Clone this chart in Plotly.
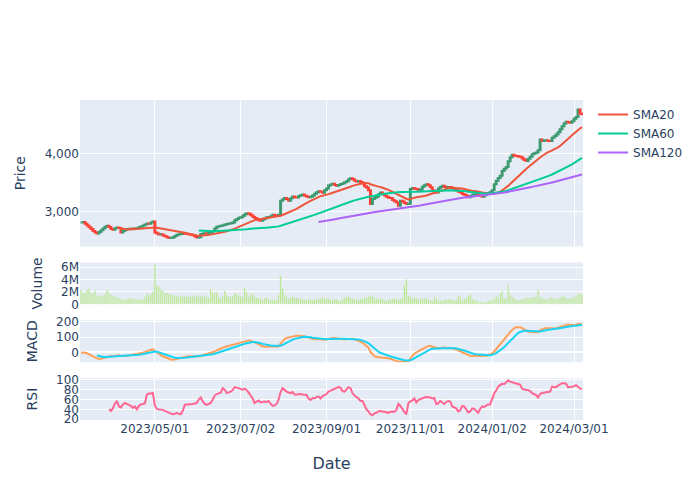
import numpy as np
import pandas as pd
import plotly.graph_objects as go
from plotly.subplots import make_subplots

start_date = "2023-03-08"
end_date = "2024-03-07"
market_holidays = ["2023-04-07", "2023-05-29", "2023-06-19", "2023-07-04", "2023-09-04",
                   "2023-11-23", "2023-12-25", "2024-01-01", "2024-01-15", "2024-02-19"]

close = [
    2815, 2820, 2790, 2760, 2730, 2700, 2665, 2640, 2625, 2650,
    2680, 2710, 2740, 2757, 2735, 2700, 2690, 2715, 2725, 2720,
    2640, 2665, 2690, 2700, 2705, 2700, 2710, 2705, 2715, 2730,
    2745, 2760, 2780, 2795, 2790, 2815, 2832, 2640, 2625, 2605,
    2610, 2590, 2575, 2560, 2545, 2548, 2560, 2580, 2600, 2610,
    2615, 2624, 2618, 2613, 2605, 2600, 2595, 2570, 2555, 2560,
    2615, 2624, 2628, 2625, 2638, 2645, 2665, 2710, 2740, 2750,
    2757, 2765, 2778, 2786, 2795, 2800, 2815, 2850, 2873, 2895,
    2905, 2931, 2955, 2971, 2965, 2940, 2913, 2890, 2873, 2850,
    2844, 2865, 2880, 2902, 2910, 2920, 2948, 2940, 2935, 2948,
    3190, 3215, 3237, 3220, 3190, 3230, 3260, 3250, 3245, 3270,
    3285, 3295, 3275, 3260, 3250, 3255, 3277, 3310, 3335, 3350,
    3345, 3325, 3370, 3400, 3450, 3470, 3480, 3460, 3445, 3460,
    3475, 3486, 3505, 3525, 3560, 3577, 3560, 3535, 3520, 3528,
    3510, 3486, 3440, 3415, 3370, 3131, 3217, 3240, 3257, 3300,
    3331, 3303, 3280, 3257, 3240, 3234, 3200, 3180, 3160, 3103,
    3189, 3177, 3150, 3131, 3135, 3389, 3406, 3395, 3389, 3370,
    3380, 3428, 3455, 3474, 3455, 3420, 3371, 3345, 3331, 3400,
    3425, 3446, 3430, 3417, 3425, 3420, 3406, 3390, 3371, 3345,
    3331, 3303, 3290, 3274, 3250, 3265, 3291, 3300, 3303, 3285,
    3274, 3257, 3285, 3303, 3320, 3340, 3371, 3474, 3531, 3580,
    3620, 3703, 3740, 3772, 3870, 3940, 3980, 3965, 3960, 3950,
    3945, 3915, 3890, 3874, 3910, 3945, 3990, 4005, 4020, 4060,
    4246, 4217, 4225, 4230, 4220, 4217, 4275, 4300, 4332, 4370,
    4420, 4474, 4520, 4550, 4540, 4531, 4560, 4600, 4630, 4760,
    4690, 4680,
]

volume_millions = [
    2.4, 1.8, 1.9, 2.3, 2.6, 1.9, 1.8, 2.2, 1.4, 1.4,
    1.4, 1.35, 1.6, 2.4, 2.0, 1.6, 1.35, 1.25, 1.15, 1.0,
    0.85, 0.7, 0.8, 0.95, 0.95, 0.95, 0.95, 0.9, 0.85, 0.75,
    0.75, 0.85, 1.2, 1.8, 1.5, 1.7, 2.0, 6.4, 3.1, 2.9,
    2.4, 2.2, 1.8, 1.9, 1.65, 1.6, 1.4, 1.5, 1.45, 1.25,
    1.3, 1.35, 1.3, 1.3, 1.2, 1.3, 1.5, 1.2, 1.4, 1.2,
    1.25, 1.5, 1.3, 1.2, 1.1, 2.4, 1.9, 1.9, 2.0, 1.2,
    0.95, 1.3, 2.2, 1.5, 1.25, 1.2, 1.3, 1.85, 1.65, 1.4,
    1.3, 1.2, 2.7, 2.0, 1.25, 1.5, 1.75, 1.2, 1.1, 1.0,
    0.95, 0.7, 1.0, 1.1, 0.8, 0.7, 0.8, 0.75, 0.7, 1.6,
    4.6, 2.6, 1.5, 1.2, 0.95, 1.1, 1.2, 1.1, 1.05, 0.95,
    0.8, 0.85, 0.75, 0.7, 0.8, 0.75, 0.7, 0.8, 0.75, 0.9,
    1.0, 1.1, 0.8, 0.9, 0.95, 0.75, 0.7, 0.8, 0.85, 0.6,
    0.55, 0.85, 1.1, 1.15, 1.3, 1.0, 0.95, 0.85, 0.7, 0.75,
    0.8, 0.9, 1.0, 1.1, 1.2, 1.4, 1.25, 1.1, 0.95, 0.9,
    0.9, 0.85, 0.6, 0.55, 0.7, 0.8, 0.9, 0.95, 0.85, 0.7,
    0.9, 1.0, 3.1, 4.0, 1.4, 1.2, 0.95, 1.1, 1.0, 0.75,
    0.85, 0.95, 1.0, 0.95, 0.75, 0.6, 0.55, 1.2, 0.9, 0.65,
    0.6, 0.6, 0.75, 0.8, 0.85, 0.8, 0.75, 0.7, 0.65, 1.35,
    1.2, 0.65, 0.85, 0.95, 1.35, 1.6, 0.9, 0.7, 0.6, 0.5,
    0.4, 0.35, 0.35, 0.4, 0.55, 0.65, 0.7, 0.9, 1.3, 1.1,
    1.8, 2.1, 1.0, 0.8, 3.1, 1.6, 1.2, 0.95, 0.8, 0.7,
    0.75, 0.85, 0.9, 1.0, 1.0, 1.1, 1.15, 1.2, 1.2, 2.3,
    1.2, 1.0, 0.9, 0.85, 0.75, 1.15, 1.1, 1.0, 0.9, 0.9,
    1.1, 1.3, 1.25, 1.1, 0.9, 1.0, 1.0, 1.2, 1.4, 1.75,
    1.7, 1.6,
]

# RSI(14); first 14 sessions have no value
rsi_values = [None] * 14 + [
    40, 37, 42, 52, 57, 46,
    44, 50, 53, 51, 49, 47, 43, 46, 40, 47,
    50, 51, 52, 70, 72, 72, 73, 48, 41, 40,
    40, 39, 37, 35, 33, 31, 30, 31, 33, 31,
    30, 37, 49, 50, 50, 50, 51, 52, 53, 60,
    64, 56, 51, 49, 51, 53, 60, 68, 71, 73,
    74, 83, 80, 73, 74, 76, 79, 85, 84, 83,
    82, 80, 82, 79, 74, 68, 62, 53, 55, 58,
    54, 55, 56, 55, 57, 51, 47, 48, 51, 60,
    75, 83, 79, 76, 74, 73, 75, 70, 70, 71,
    71, 70, 70, 69, 62, 59, 63, 62, 65, 66,
    62, 67, 69, 71, 76, 78, 79, 82, 84, 85,
    84, 77, 76, 80, 85, 83, 73, 68, 65, 62,
    57, 57, 49, 40, 36, 30, 28, 32, 33, 36,
    37, 35, 35, 34, 33, 35, 35, 35, 39, 51,
    47, 40, 35, 30, 53, 56, 58, 62, 54, 59,
    61, 63, 64, 65, 65, 64, 62, 63, 51, 52,
    57, 54, 51, 55, 57, 56, 46, 44, 42, 36,
    38, 47, 46, 40, 34, 36, 42, 41, 37, 33,
    41, 46, 45, 48, 50, 50, 63, 72, 78, 86,
    89, 92, 91, 95, 99, 96, 95, 94, 92, 92,
    90, 82, 80, 79, 79, 77, 73, 71, 69, 64,
    71, 73, 74, 75, 75, 76, 86, 86, 85, 88,
    91, 93, 93, 92, 85, 85, 86, 87, 89, 86,
    82, 81,
]

dates = pd.bdate_range(start_date, end_date)
dates = dates[~dates.isin(pd.to_datetime(market_holidays))]
n = min(len(dates), len(close), len(volume_millions), len(rsi_values))
dates = dates[:n]

df = pd.DataFrame({"Close": close[:n],
                   "Volume": np.array(volume_millions[:n]) * 1e6}, index=dates)
df["Open"] = df["Close"].shift(1).fillna(df["Close"])
df["High"] = df[["Open", "Close"]].max(axis=1)
df["Low"] = df[["Open", "Close"]].min(axis=1)
df["SMA20"] = df["Close"].rolling(20).mean()
df["SMA60"] = df["Close"].rolling(60).mean()
df["SMA120"] = df["Close"].rolling(120).mean()
ema12 = df["Close"].ewm(span=12, adjust=False).mean()
ema26 = df["Close"].ewm(span=26, adjust=False).mean()
df["MACD"] = ema12 - ema26
df["Signal"] = df["MACD"].ewm(span=9, adjust=False, min_periods=9).mean()
rsi_plot = rsi_values[:n]

all_days = pd.date_range(dates[0], dates[-1])
missing = [d.strftime("%Y-%m-%d") for d in all_days if d not in dates]

fig = make_subplots(rows=4, cols=1, shared_xaxes=True, vertical_spacing=0.05,
                    row_heights=[0.7, 0.2, 0.2, 0.2])

fig.add_trace(go.Candlestick(x=df.index, open=df["Open"], high=df["High"],
                             low=df["Low"], close=df["Close"], showlegend=False,
                             name="Price"), row=1, col=1)
fig.add_trace(go.Scatter(x=df.index, y=df["SMA20"], mode="lines", name="SMA20",
                         line=dict(color="#EF553B")), row=1, col=1)
fig.add_trace(go.Scatter(x=df.index, y=df["SMA60"], mode="lines", name="SMA60",
                         line=dict(color="#00CC96")), row=1, col=1)
fig.add_trace(go.Scatter(x=df.index, y=df["SMA120"], mode="lines", name="SMA120",
                         line=dict(color="#AB63FA")), row=1, col=1)
fig.add_trace(go.Bar(x=df.index, y=df["Volume"], name="Volume", showlegend=False,
                     marker_color="#B6E880"), row=2, col=1)
fig.add_trace(go.Scatter(x=df.index, y=df["MACD"], mode="lines", name="MACD",
                         showlegend=False, line=dict(color="#FFA15A")), row=3, col=1)
fig.add_trace(go.Scatter(x=df.index, y=df["Signal"], mode="lines", name="Signal",
                         showlegend=False, line=dict(color="#19D3F3")), row=3, col=1)
fig.add_trace(go.Scatter(x=df.index, y=rsi_plot, mode="lines", name="RSI",
                         showlegend=False, line=dict(color="#FF6692")), row=4, col=1)

fig.update_xaxes(rangebreaks=[dict(values=missing)], tickformat="%Y/%m/%d")
fig.update_layout(width=700, height=500, xaxis_rangeslider_visible=False,
                  font=dict(family="Verdana, DejaVu Sans, sans-serif"))
fig.update_yaxes(title_text="Price", tickformat=",", range=[2400, 4925], row=1, col=1)
fig.update_yaxes(title_text="Volume", row=2, col=1)
fig.update_yaxes(title_text="MACD", range=[-64, 211], row=3, col=1)
fig.update_yaxes(title_text="RSI", range=[18.5, 103.2], row=4, col=1)
fig.update_xaxes(title_text="Date", title_font_size=16, title_standoff=22, row=4, col=1)

fig.write_html("out.html", config={"displayModeBar": False},
               post_script="document.body.style.margin='0px';")
